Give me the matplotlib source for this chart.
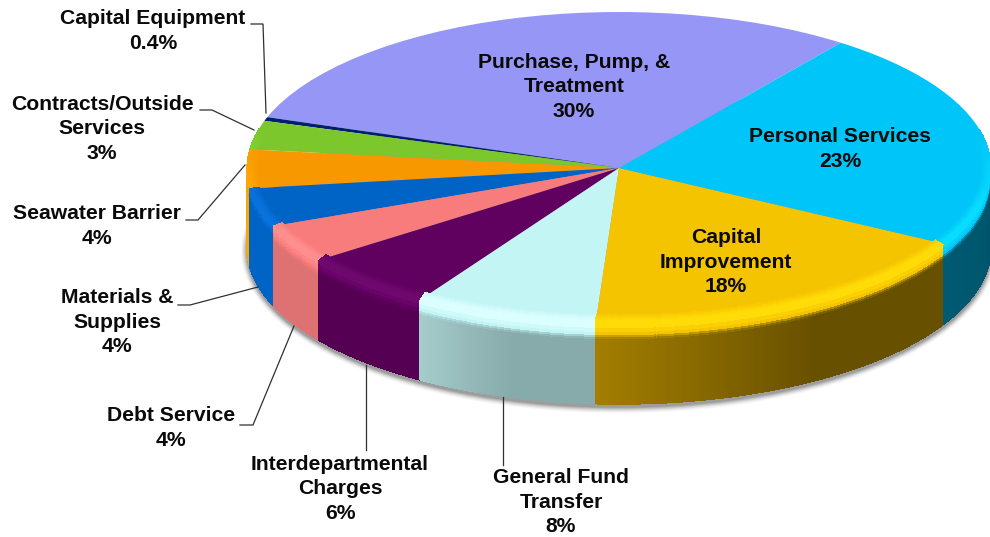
import numpy as np
import matplotlib
matplotlib.use("Agg")
import matplotlib.pyplot as plt
from matplotlib.collections import PolyCollection
from matplotlib.patches import Ellipse
from matplotlib.colors import to_rgb

# ---- data (counter-clockwise from the Purchase slice) ----
categories = ["Purchase, Pump, &\nTreatment", "Capital Equipment", "Contracts/Outside\nServices",
              "Seawater Barrier", "Materials &\nSupplies", "Debt Service",
              "Interdepartmental\nCharges", "General Fund\nTransfer",
              "Capital\nImprovement", "Personal Services"]
values = [30, 0.4, 3, 4, 4, 4, 6, 8, 18, 23]
pct_labels = ["30%", "0.4%", "3%", "4%", "4%", "4%", "6%", "8%", "18%", "23%"]
top_colors = ["#9696F6", "#00206E", "#7CC82C", "#F79800", "#0063C6", "#F87C7C",
              "#60005F", "#C4F5F5", "#F5C400", "#00C5F8"]
wall_left = ["#6060A0", "#001040", "#4C7E1A", "#F9A800", "#0063C6", "#DE7272",
             "#560054", "#A6CCCC", "#A37E00", "#005A72"]
wall_right = ["#6060A0", "#001040", "#4C7E1A", "#F9A800", "#0063C6", "#DE7272",
              "#560054", "#87AAAA", "#675000", "#005066"]

# label placement (centre x, centre y in picture pixels) - one entry per category
label_xy = [(574, 87), (153, 31), (102, 129), (97, 226), (117, 322),
            (171, 428), (340, 489), (561, 502), (726, 262), (840, 149)]
leaders = [None,
           [(251, 24), (263, 24), (266, 113)],
           [(200, 110), (212, 110), (254, 130)],
           [(186, 220), (198, 220), (245, 165)],
           [(178, 305), (190, 305), (258, 287)],
           [(240, 425), (253, 425), (294, 326)],
           [(366, 450), (366, 365)],
           [(503, 465), (503, 397)],
           None, None]

W, H = 990, 537
CX, CY, A, B = 619, 168, 372, 156
WALL_PX = 80
START = 53.4

fig = plt.figure(figsize=(W / 100, H / 100), dpi=100, facecolor="white")
ax = fig.add_axes([0, 0, 1, 1])
wedges, _ = ax.pie(values, colors=top_colors, startangle=START, counterclock=True,
                   radius=1, center=(0, 0), wedgeprops=dict(linewidth=0))
ax.set_aspect("auto")
ax.set_xlim(-CX / A, (W - CX) / A)
ax.set_ylim((CY - H) / B, CY / B)
ax.axis("off")
for w in wedges:
    w.set_zorder(5)

wall_u = WALL_PX / B

# soft drop shadow under the body
for k, alpha in zip(range(9, 0, -1), [.02, .03, .04, .05, .07, .08, .10, .12, .14]):
    ax.add_patch(Ellipse((0, -wall_u - 3 / B), 2 + 2 * k * .7 / A, 2 + 2 * k * .7 / B,
                         facecolor="#404040", edgecolor="none", alpha=alpha, zorder=1))


def rgb(c):
    return np.array(to_rgb(c))


def lerp(a, b, f):
    return a * (1 - f) + b * f


polys, cols = [], []
rim_polys, rim_cols = [], []
RIM = [(9, 7, .25), (7, 5, .55), (5, 3, .8), (3, 0, 1.0)]
for w, ct, cl, cr in zip(wedges, top_colors, wall_left, wall_right):
    t1, t2 = w.theta1, w.theta2
    ts = np.arange(t1, t2 + 0.5, 0.5)
    ts[-1] = t2
    top = rgb(ct)
    light = np.clip(top * 1.08 + 0.03, 0, 1)
    L, R = rgb(cl), rgb(cr)
    for a0, a1 in zip(ts[:-1], ts[1:]):
        x0, x1 = np.cos(np.radians([a0, a1]))
        y0, y1 = np.sin(np.radians([a0, a1]))
        am = (a0 + a1) / 2
        s = np.sin(np.radians(am))
        strength = np.clip((0.25 - s) / 0.5, 0, 1)
        if strength > 0:
            for p_in, p_out, f in RIM:
                xi, yi = 1 - p_in / A, 1 - p_in / B
                xo, yo = 1 - p_out / A, 1 - p_out / B
                rim_polys.append([(xi * x0, yi * y0), (xo * x0, yo * y0),
                                  (xo * x1, yo * y1), (xi * x1, yi * y1)])
                rim_cols.append(tuple(lerp(top, light, f * strength)))
        if s < 0.02:
            frac = min(1.0, (am - t1) / max(1e-6, (t2 - t1) * 0.55))
            wall = lerp(L, R, frac)
            layers = [(0, 5, light), (5, 9, lerp(light, top, .5)), (9, 12, top),
                      (12, 14, lerp(top, wall, .5)), (14, 16, lerp(top, wall, .85)),
                      (16, WALL_PX, wall)]
            for s0, s1, col in layers:
                u0, u1 = s0 / B, s1 / B
                polys.append([(x0, y0 - u0), (x1, y1 - u0), (x1, y1 - u1), (x0, y0 - u1)])
                cols.append(tuple(col))

ax.add_collection(PolyCollection(polys, facecolors=cols, edgecolors=cols, linewidths=0.4,
                                 antialiaseds=False, zorder=3))
ax.add_collection(PolyCollection(rim_polys, facecolors=rim_cols, edgecolors="none", linewidths=0,
                                 antialiaseds=False, zorder=6))

# overlay in picture pixels for labels and leader lines
ov = fig.add_axes([0, 0, 1, 1], facecolor="none")
ov.set_xlim(0, W)
ov.set_ylim(H, 0)
ov.axis("off")

for name, pct, xy, lead in zip(categories, pct_labels, label_xy, leaders):
    ov.text(xy[0], xy[1], f"{name}\n{pct}", ha="center", va="center", multialignment="center",
            fontfamily="Liberation Sans", fontweight="bold", fontsize=15.2, color="#0a0a0a",
            linespacing=1.38, zorder=10)
    if lead:
        xs, ys = zip(*lead)
        ov.plot(xs, ys, color="#303030", lw=0.9, zorder=9, solid_joinstyle="miter")

fig.savefig("out.png", dpi=100, facecolor="white")
